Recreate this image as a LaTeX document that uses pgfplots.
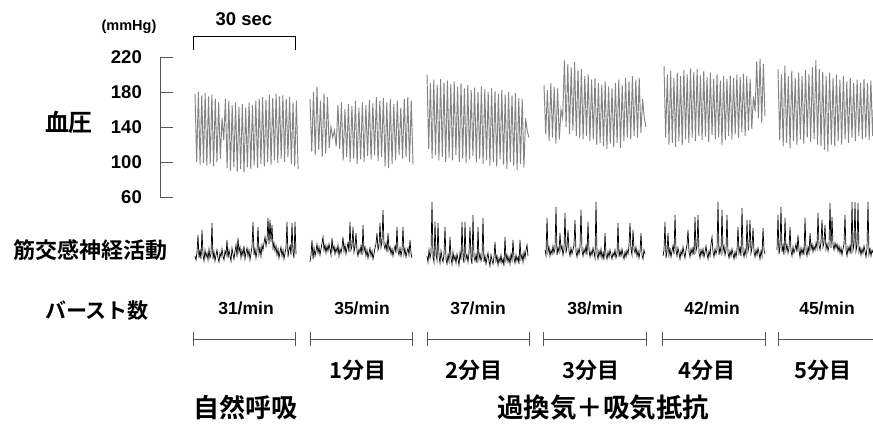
\documentclass[border=0pt]{standalone}
\usepackage{fontspec}
\usepackage{pgfplots}
\usepackage{pgfplotstable}
\pgfplotsset{compat=1.18}
\setmainfont{Liberation Sans}
\newfontfamily\jpb{Noto Sans CJK JP Bold}

% Blood pressure traces (mmHg), alternating systolic / diastolic samples
\pgfplotstableread[row sep=\\]{p\\178\\100\\180\\97\\176\\99\\179\\96\\175\\98\\177\\95\\172\\100\\168\\104\\150\\125\\172\\93\\170\\90\\165\\94\\168\\89\\163\\92\\166\\88\\162\\94\\168\\92\\165\\96\\170\\93\\172\\98\\174\\95\\171\\100\\177\\97\\173\\102\\178\\99\\175\\104\\176\\100\\172\\106\\174\\98\\168\\95\\170\\92\\}\bpA
\pgfplotstableread[row sep=\\]{p\\172\\112\\180\\108\\186\\114\\170\\106\\178\\110\\174\\116\\140\\128\\136\\118\\165\\115\\168\\102\\160\\106\\166\\100\\164\\104\\170\\98\\162\\103\\168\\100\\165\\107\\171\\103\\167\\108\\174\\101\\170\\106\\173\\95\\168\\93\\172\\98\\166\\102\\170\\108\\162\\104\\172\\106\\174\\100\\170\\97\\}\bpB
\pgfplotstableread[row sep=\\]{p\\200\\115\\190\\104\\194\\108\\188\\102\\195\\106\\191\\100\\193\\105\\189\\102\\192\\108\\186\\100\\190\\104\\184\\99\\188\\103\\182\\107\\185\\100\\180\\104\\186\\98\\183\\102\\180\\96\\184\\100\\181\\95\\178\\103\\182\\97\\177\\92\\180\\100\\176\\96\\179\\91\\173\\98\\172\\94\\150\\135\\128\\}\bpC
\pgfplotstableread[row sep=\\]{p\\188\\132\\182\\124\\190\\128\\186\\121\\184\\126\\160\\150\\216\\140\\212\\132\\208\\136\\214\\130\\205\\128\\206\\126\\198\\130\\200\\124\\194\\126\\196\\120\\190\\122\\188\\118\\192\\115\\186\\121\\184\\117\\190\\122\\194\\116\\188\\124\\196\\128\\192\\126\\198\\130\\194\\128\\196\\133\\172\\150\\140\\}\bpD
\pgfplotstableread[row sep=\\]{p\\210\\128\\200\\120\\204\\122\\196\\117\\202\\124\\198\\119\\205\\126\\200\\122\\207\\128\\203\\124\\206\\130\\199\\125\\204\\129\\197\\123\\202\\131\\195\\126\\200\\128\\193\\120\\198\\125\\195\\130\\199\\126\\196\\132\\200\\128\\197\\134\\201\\130\\198\\136\\195\\138\\175\\158\\215\\150\\218\\145\\212\\152\\}\bpE
\pgfplotstableread[row sep=\\]{p\\206\\125\\200\\118\\210\\122\\198\\116\\204\\124\\196\\120\\202\\126\\198\\121\\205\\128\\200\\123\\208\\126\\216\\120\\206\\118\\203\\114\\198\\112\\202\\120\\196\\118\\200\\124\\194\\120\\198\\126\\192\\122\\196\\128\\190\\124\\194\\130\\190\\126\\195\\128\\190\\125\\193\\130\\188\\127\\}\bpF

% Muscle sympathetic nerve activity (drawing units, larger = lower)
\pgfplotstableread[row sep=\\]{n\\256\\260\\252\\235\\258\\251\\259\\230\\255\\261\\250\\257\\253\\260\\249\\258\\254\\223\\259\\252\\261\\255\\250\\258\\262\\253\\257\\249\\256\\260\\251\\255\\240\\258\\250\\256\\261\\248\\254\\259\\251\\245\\257\\238\\252\\247\\258\\250\\255\\246\\259\\252\\248\\256\\250\\260\\253\\247\\222\\255\\249\\258\\251\\227\\254\\248\\256\\245\\250\\243\\237\\246\\240\\218\\244\\220\\242\\225\\248\\243\\251\\246\\255\\249\\258\\252\\247\\256\\250\\259\\253\\248\\222\\257\\250\\246\\255\\223\\252\\258\\222\\254\\}\msA
\pgfplotstableread[row sep=\\]{n\\262\\255\\240\\259\\248\\256\\251\\244\\253\\247\\255\\249\\243\\237\\250\\245\\253\\246\\251\\244\\249\\255\\238\\250\\246\\254\\248\\252\\245\\256\\249\\253\\247\\237\\251\\245\\254\\248\\243\\252\\222\\250\\246\\227\\252\\247\\233\\251\\256\\249\\253\\246\\255\\225\\251\\247\\256\\250\\258\\253\\248\\256\\251\\259\\254\\248\\244\\233\\250\\246\\223\\247\\242\\210\\245\\249\\243\\252\\233\\250\\247\\254\\249\\256\\250\\246\\253\\227\\251\\255\\248\\256\\250\\227\\254\\249\\257\\252\\248\\255\\240\\253\\258\\}\msB
\pgfplotstableread[row sep=\\]{n\\256\\262\\250\\258\\253\\202\\257\\262\\222\\255\\260\\223\\256\\263\\251\\258\\262\\254\\227\\259\\264\\255\\261\\237\\258\\264\\252\\260\\256\\263\\254\\259\\265\\253\\260\\222\\257\\263\\222\\259\\255\\262\\253\\227\\258\\264\\215\\257\\261\\255\\263\\227\\259\\254\\261\\257\\218\\262\\256\\264\\258\\253\\261\\266\\255\\260\\264\\257\\242\\261\\256\\265\\258\\262\\255\\263\\259\\266\\237\\260\\255\\262\\257\\264\\254\\260\\240\\258\\263\\255\\261\\257\\264\\240\\259\\255\\262\\252\\258\\250\\245\\256\\}\msC
\pgfplotstableread[row sep=\\]{n\\250\\255\\218\\252\\247\\256\\250\\254\\246\\253\\249\\207\\255\\248\\252\\233\\250\\246\\255\\249\\213\\253\\247\\230\\251\\256\\248\\254\\250\\245\\220\\252\\257\\249\\254\\247\\210\\251\\256\\249\\253\\246\\255\\222\\250\\257\\251\\255\\248\\253\\258\\202\\254\\259\\251\\256\\249\\258\\253\\260\\233\\255\\259\\252\\257\\250\\255\\259\\253\\256\\250\\258\\254\\223\\257\\251\\256\\249\\255\\259\\252\\257\\250\\254\\246\\223\\250\\255\\230\\249\\253\\247\\256\\251\\258\\252\\233\\255\\259\\250\\254\\}\msD
\pgfplotstableread[row sep=\\]{n\\256\\250\\222\\258\\252\\233\\255\\249\\257\\251\\246\\254\\215\\250\\256\\248\\253\\259\\251\\255\\247\\253\\258\\250\\245\\230\\252\\257\\249\\254\\248\\255\\217\\251\\246\\215\\253\\258\\250\\255\\249\\257\\252\\246\\254\\259\\251\\256\\244\\237\\252\\257\\249\\254\\250\\202\\255\\248\\253\\210\\251\\246\\255\\250\\215\\253\\258\\251\\256\\249\\254\\259\\252\\257\\250\\227\\253\\248\\256\\208\\252\\257\\250\\255\\220\\251\\246\\220\\253\\248\\228\\252\\257\\250\\255\\248\\253\\259\\251\\256\\228\\250\\254\\}\msE
\pgfplotstableread[row sep=\\]{n\\250\\215\\254\\247\\207\\252\\246\\255\\218\\250\\245\\253\\248\\227\\251\\256\\247\\253\\249\\244\\252\\235\\250\\257\\248\\254\\249\\255\\218\\251\\256\\247\\253\\233\\249\\244\\252\\246\\250\\243\\248\\213\\245\\250\\242\\220\\247\\243\\225\\249\\244\\251\\246\\203\\248\\217\\245\\250\\243\\248\\244\\251\\246\\253\\248\\255\\249\\244\\215\\250\\256\\247\\252\\246\\254\\202\\250\\245\\202\\251\\246\\203\\252\\248\\255\\249\\253\\246\\251\\257\\248\\202\\254\\249\\256\\250\\253\\}\msF

\definecolor{bpgray}{HTML}{838383}
\definecolor{axgray}{HTML}{555555}

\begin{document}
\begin{tikzpicture}[x=1pt,y=1pt]

% blood pressure
\begin{axis}[at={(160pt,228pt)}, anchor=south west, scale only axis,
  width=713pt, height=140pt, xmin=160, xmax=873, ymin=60, ymax=220,
  axis x line=none, axis y line=left, xtick=\empty,
  axis line style={-, axgray, line width=0.9pt},
  ytick={60,100,140,180,220}, tick align=inside, major tick length=13pt,
  tick style={axgray, line width=0.9pt},
  /pgf/number format/assume math mode=true,
  yticklabel style={font=\fontsize{18.5}{18.5}\selectfont\bfseries, anchor=east, inner sep=0pt, xshift=-18pt}]
\addplot[bpgray, line width=0.95pt] table[x expr={195+1.69*\coordindex}, y=p]{\bpA};
\addplot[bpgray, line width=0.95pt] table[x expr={310+1.746*\coordindex}, y=p]{\bpB};
\addplot[bpgray, line width=0.95pt] table[x expr={427+1.7*\coordindex}, y=p]{\bpC};
\addplot[bpgray, line width=0.95pt] table[x expr={544+1.7*\coordindex}, y=p]{\bpD};
\addplot[bpgray, line width=0.95pt] table[x expr={664+1.656*\coordindex}, y=p]{\bpE};
\addplot[bpgray, line width=0.95pt] table[x expr={778+1.72*\coordindex}, y=p]{\bpF};
\end{axis}

% nerve activity
\begin{axis}[at={(160pt,155pt)}, anchor=south west, scale only axis,
  width=713pt, height=75pt, xmin=160, xmax=873, ymin=195, ymax=270,
  y dir=reverse, hide axis, clip=false]
\addplot[black, line width=0.7pt] table[x expr={195+\coordindex}, y=n]{\msA};
\addplot[black, line width=0.7pt] table[x expr={310+\coordindex}, y=n]{\msB};
\addplot[black, line width=0.7pt] table[x expr={427+\coordindex}, y=n]{\msC};
\addplot[black, line width=0.7pt] table[x expr={545+\coordindex}, y=n]{\msD};
\addplot[black, line width=0.7pt] table[x expr={663+\coordindex}, y=n]{\msE};
\addplot[black, line width=0.7pt] table[x expr={777+\coordindex}, y=n]{\msF};
\end{axis}

% labels
\node[font=\fontsize{14.5}{14.5}\selectfont\bfseries] at (129,398) {(mmHg)};
\node[font=\fontsize{18.5}{18.5}\selectfont\bfseries] at (244,406) {30 sec};
\draw[black, line width=0.9pt] (193,375) -- (193,389) -- (295,389) -- (295,375);
\node[font=\fontsize{24}{24}\selectfont\jpb] at (69,303) {血圧};
\node[font=\fontsize{22}{22}\selectfont\jpb] at (90,175) {筋交感神経活動};
\node[font=\fontsize{21}{21}\selectfont\jpb] at (97,114) {バースト数};

\foreach \xc/\rate in {246/31, 362/35, 478/37, 595/38, 712/42, 827/45}
  \node[font=\fontsize{17.5}{17.5}\selectfont\bfseries] at (\xc,117) {\rate/min};

\foreach \a/\b in {193/295, 310/412, 427/529, 543/646, 662/765, 778/880}
  \draw[axgray, line width=0.9pt] (\a,79) -- (\a,93) (\a,86) -- (\b,86) (\b,79) -- (\b,93);

\foreach \xc/\mnum in {358/1, 474/2, 591/3, 707/4, 823/5}
  \node[font=\fontsize{22}{22}\selectfont\jpb] at (\xc,55) {\mnum{}分目};

\node[font=\fontsize{26}{26}\selectfont\jpb] at (245,17) {自然呼吸};
\node[font=\fontsize{26.5}{26.5}\selectfont\jpb] at (603,17) {過換気＋吸気抵抗};

\pgfresetboundingbox
\path[use as bounding box] (0,0) rectangle (873,425);
\end{tikzpicture}
\end{document}
